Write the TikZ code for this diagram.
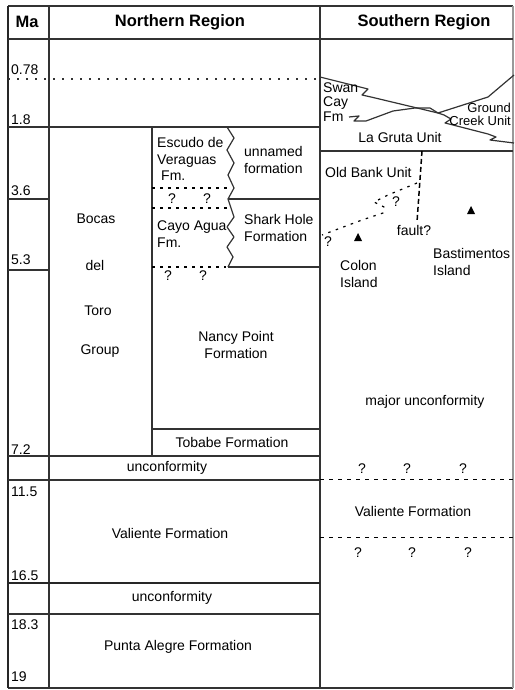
\documentclass[tikz,border=0pt]{standalone}
\usepackage{fontspec}
\setmainfont{Liberation Sans}
\usetikzlibrary{calc}

\begin{document}
\begin{tikzpicture}[x=1pt, y=-1pt, font=\fontsize{14}{16.5}\selectfont, line join=round,
	rule/.style={line width=1.2pt, black!80},
	heavy/.style={line width=2pt, black!85},
	doubtful/.style={line width=1.2pt, dash pattern=on 2.5pt off 5.5pt},
	dashrule/.style={line width=1pt, dash pattern=on 4pt off 5pt},
	lbl/.style={inner sep=0pt, align=center},
	age/.style={inner sep=0pt, anchor=west},
	headlbl/.style={inner sep=0pt, font=\fontsize{16.5}{18}\selectfont\bfseries},
	peak/.style={fill=black}]
		
		\useasboundingbox (0,0) rectangle (514,690);
		
		% --- 1. Frame and column rules ---
		\draw[rule] (8,6) -- (513,6);
		\draw[rule] (8,688) -- (513,688);
		\draw[rule, black!40] (513,6) -- (513,688);
		\draw[heavy] (8,6) -- (8,688);
		\draw[rule] (49,6) -- (49,688);
		\draw[rule] (320,6) -- (320,688);
		\draw[rule] (8,39) -- (513,39);
		
		% --- 2. Northern Region: time lines ---
		\draw[rule, dash pattern=on 2pt off 7pt] (8,79) -- (320,79);
		\foreach \y in {127, 456, 480, 614} {
			\draw[rule] (8,\y) -- (320,\y);
		}
		\draw[heavy] (8,583) -- (320,583);
		% Ma column only
		\foreach \y in {199, 270} {
			\draw[rule] (8,\y) -- (49,\y);
		}
		
		% Bocas del Toro Group column
		\draw[rule] (152,127) -- (152,456);
		\draw[rule] (152,429) -- (320,429);
		
		% interfingering contact (zigzag)
		\draw[rule] (227,127) -- (234,138) -- (227,150) -- (234,163) -- (228,175)
		-- (234,188) -- (228,199) -- (234,217) -- (227,227) -- (234,237)
		-- (227,247) -- (233,257) -- (228,267);
		\draw[rule] (228,199) -- (320,199);
		\draw[rule] (228,267) -- (320,267);
		
		% uncertain boundaries
		\draw[doubtful] (152,188) -- (230,188);
		\draw[doubtful] (152,208) -- (231,208);
		\draw[doubtful] (152,267) -- (226,267);
		
		% --- 3. Southern Region ---
		% Swan Cay Fm wedge
		\draw[rule] (320,77) -- (368,89) -- (362,95) -- (371,97) -- (438,113);
		\draw[rule] (349,117) -- (359,116) -- (354,121) -- (366,121) -- (393,111)
		-- (415,108) -- (430,108) -- (438,113);
		% Ground Creek Unit wedge
		\draw[rule] (438,113) -- (488,97) -- (514,75);
		\draw[rule] (438,113) -- (444,115) -- (451,119) -- (445,123) -- (453,125)
		-- (488,134) -- (496,137) -- (490,140) -- (514,143);
		% base of La Gruta Unit
		\draw[rule] (320,151) -- (513,151);
		
		% fault and uncertain contact
		\draw[line width=1.5pt, dash pattern=on 5pt off 3pt] (422,151) -- (417,222);
		\draw[doubtful] (417,183) -- (388,195) -- (374,202) -- (384,207) -- (383,213)
		-- (362,220) -- (322,235);
		
		% island peaks
		\fill[peak] (358,233) -- (354,241) -- (362,241) -- cycle;
		\fill[peak] (471,206) -- (467,214) -- (475,214) -- cycle;
		
		% Valiente Formation limits
		\draw[dashrule] (320,479) -- (513,479);
		\draw[dashrule] (320,537) -- (513,537);
		
		% --- 4. Headings ---
		\node[headlbl] (ma) at (27,22) {Ma};
		\node[headlbl] (north) at (180,22) {Northern Region};
		\node[headlbl] (south) at (424,22) {Southern Region};
		
		% --- 5. Ages (Ma) ---
		\foreach \v/\y [count=\i] in {0.78/70, 1.8/120, 3.6/191, 5.3/260, 7.2/450,
			11.5/492, 16.5/576, 18.3/625, 19/677} {
			\node[age] (age\i) at (11,\y) {\v};
		}
		
		% --- 6. Northern units ---
		\foreach \w/\x/\y in {Bocas/96/219, del/95/265, Toro/98/311, Group/100/351} {
			\node[lbl] (bdt-\w) at (\x,\y) {\w};
		}
		\node[lbl, align=left, anchor=west] (escudo) at (157,159) {Escudo de\\Veraguas\\\hspace{4pt}Fm.};
		\node[lbl, align=left, anchor=west] (unnamed) at (244,160) {unnamed\\formation};
		\node[lbl, align=left, anchor=west] (cayo) at (157,234) {Cayo Agua\\Fm.};
		\node[lbl, align=left, anchor=west] (shark) at (244,228) {Shark Hole\\Formation};
		\node[lbl] (nancy) at (236,345) {Nancy Point\\Formation};
		\node[lbl] (tobabe) at (232,442) {Tobabe Formation};
		\node[lbl] (unconf1) at (167,468) {unconformity};
		\node[lbl] (valienteN) at (170,533) {Valiente Formation};
		\node[lbl] (unconf2) at (172,598) {unconformity};
		\node[lbl] (punta) at (178,647) {Punta Alegre Formation};
		\foreach \x/\y [count=\i] in {172/199, 207/199, 168/276, 203/276} {
			\node[lbl] (qN\i) at (\x,\y) {?};
		}
		
		% --- 7. Southern units ---
		\node[lbl, align=left, anchor=west, font=\fontsize{14}{14.5}\selectfont] (swan) at (323,102) {Swan\\Cay\\Fm};
		\node[lbl, align=right, anchor=east, font=\fontsize{13}{13}\selectfont] (ground) at (511,114) {Ground\\Creek Unit};
		\node[lbl] (gruta) at (400,137) {La Gruta Unit};
		\node[lbl, anchor=west] (oldbank) at (325,172) {Old Bank Unit};
		\node[lbl] (fault) at (414,230) {fault?};
		\node[lbl, align=left, anchor=west] (colon) at (340,274) {Colon\\Island};
		\node[lbl, align=left, anchor=west] (basti) at (433,262) {Bastimentos\\Island};
		\node[lbl] (major) at (425,402) {major unconformity};
		\node[lbl] (valienteS) at (413,511) {Valiente Formation};
		\foreach \x/\y [count=\i] in {396/202, 328/242, 362/469, 407/469, 463/469,
			358/553, 412/553, 468/553} {
			\node[lbl] (qS\i) at (\x,\y) {?};
		}
		
	\end{tikzpicture}
\end{document}
